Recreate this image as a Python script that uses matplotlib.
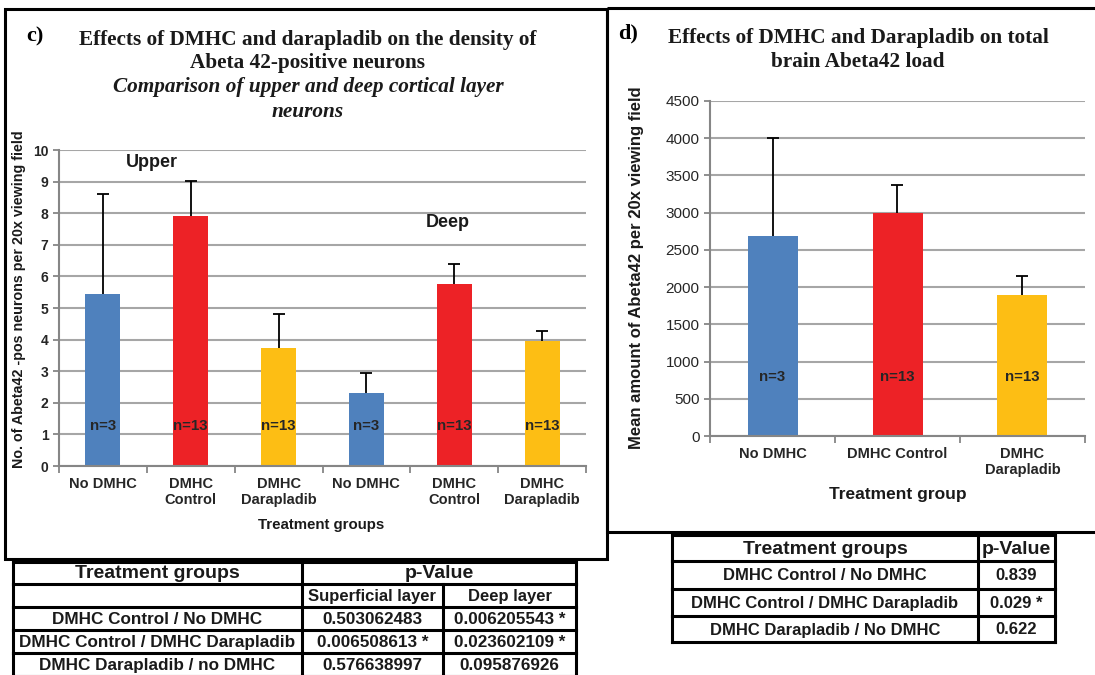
import matplotlib.pyplot as plt
import numpy as np
from matplotlib.patches import Rectangle

# bar data, panel c (upper layer then deep layer)
left_labels = ['No DMHC', 'DMHC\nControl', 'DMHC\nDarapladib',
               'No DMHC', 'DMHC\nControl', 'DMHC\nDarapladib']
left_means = [5.45, 7.9, 3.75, 2.3, 5.76, 3.97]
left_err = [3.17, 1.12, 1.05, 0.63, 0.64, 0.31]
left_n = ['n=3', 'n=13', 'n=13', 'n=3', 'n=13', 'n=13']

# bar data, panel d
right_labels = ['No DMHC', 'DMHC Control', 'DMHC\nDarapladib']
right_means = [2680, 2990, 1900]
right_err = [1320, 380, 250]
right_n = ['n=3', 'n=13', 'n=13']

# p-value tables
left_table_head = ['Treatment groups', 'p-Value']
left_table_sub = ['', 'Superficial layer', 'Deep layer']
left_table_rows = [
    ['DMHC Control / No DMHC', '0.503062483', '0.006205543 *'],
    ['DMHC Control / DMHC Darapladib', '0.006508613 *', '0.023602109 *'],
    ['DMHC Darapladib / no DMHC', '0.576638997', '0.095876926'],
]
right_table_head = ['Treatment groups', 'p-Value']
right_table_rows = [
    ['DMHC Control / No DMHC', '0.839'],
    ['DMHC Control / DMHC Darapladib', '0.029 *'],
    ['DMHC Darapladib / No DMHC', '0.622'],
]

W, H = 1095, 675
BLUE, RED, YELLOW = '#4F81BD', '#ED2226', '#FDBE14'
GRID = '#A6A6A6'
SANS = 'Liberation Sans'
SERIF = 'Liberation Serif'

plt.rcParams['font.family'] = SANS


def px_box(x0, y0, x1, y1):
    return [x0 / W, 1 - y1 / H, (x1 - x0) / W, (y1 - y0) / H]


def bar_panel(ax, labels, means, errs, ns, n_y, colors, ymax, ystep, tick_size, tick_weight):
    x = np.arange(len(means))
    means = np.array(means, dtype=float)
    tops = means + np.array(errs, dtype=float)
    ax.bar(x, means, width=0.4, color=colors, zorder=2)
    # plus-only error bars: stem from bar top, cap at the end
    ax.vlines(x, means, tops, color='black', lw=1.3, zorder=3)
    ax.plot(x, tops, ls='none', marker='_', ms=8, mew=1.3, color='black', zorder=3)
    for xi, n in zip(x, ns):
        ax.text(xi, n_y, n, ha='center', va='center', fontsize=10.8,
                fontweight='bold', color='#262626', zorder=4)
    ax.set_xlim(-0.5, len(means) - 0.5)
    ax.set_ylim(0, ymax)
    ax.set_yticks(np.arange(0, ymax + ystep / 2, ystep))
    ax.yaxis.grid(True, color=GRID, lw=1.5)
    ax.set_axisbelow(True)
    ax.set_xticks(x)
    ax.set_xticklabels(labels, fontsize=10.5, fontweight='bold', color='#262626', linespacing=1.15)
    ax.set_xticks(np.arange(-0.5, len(means)), minor=True)
    ax.tick_params(axis='x', which='major', length=0, pad=8)
    ax.tick_params(axis='x', which='minor', length=5, width=1.3, color='#868686')
    ax.tick_params(axis='y', length=4, width=1.3, color='#868686', labelsize=tick_size)
    for lab in ax.get_yticklabels():
        lab.set_fontweight(tick_weight)
        lab.set_color('#262626')
    for side in ['top', 'right']:
        ax.spines[side].set_visible(False)
    for side in ['left', 'bottom']:
        ax.spines[side].set_color('#868686')
        ax.spines[side].set_linewidth(1.5)
    ax.patch.set_visible(False)


def draw_table(ov, cols, rows_y, cells, spans, sizes):
    # spans: row index -> inner column lines left out (merged cells)
    lw = 2.2
    for y in rows_y:
        ov.plot([cols[0], cols[-1]], [y, y], color='black', lw=lw, solid_capstyle='projecting')
    for i, row in enumerate(cells):
        ya, yb = rows_y[i], rows_y[i + 1]
        ov.plot([cols[0], cols[0]], [ya, yb], color='black', lw=lw)
        ov.plot([cols[-1], cols[-1]], [ya, yb], color='black', lw=lw)
        for j in range(1, len(cols) - 1):
            if j not in spans.get(i, []):
                ov.plot([cols[j], cols[j]], [ya, yb], color='black', lw=lw)
        j = 0
        for text in row:
            if text is None:
                j += 1
                continue
            k = j + 1
            while k < len(cols) - 1 and k in spans.get(i, []):
                k += 1
            ov.text((cols[j] + cols[k]) / 2, (ya + yb) / 2 + 1, text, ha='center', va='center',
                    fontsize=sizes[i], fontweight='bold', color='#1a1a1a')
            j = k


fig = plt.figure(figsize=(W / 100, H / 100), dpi=100)

ov = fig.add_axes([0, 0, 1, 1], zorder=0)
ov.set_xlim(0, W)
ov.set_ylim(H, 0)
ov.axis('off')

# panel frames
ov.add_patch(Rectangle((5, 9), 602, 550, fill=False, lw=2.2, edgecolor='black'))
ov.add_patch(Rectangle((607, 8), 520, 524, fill=False, lw=2.2, edgecolor='black'))

# panel c titles
ov.text(35, 36, 'c)', family=SERIF, fontweight='bold', fontsize=16, ha='center', va='center')
ov.text(308, 40, 'Effects of DMHC and darapladib on the density of', family=SERIF,
        fontweight='bold', fontsize=15.3, ha='center', va='center', color='#1a1a1a')
ov.text(308, 63, 'Abeta 42-positive neurons', family=SERIF,
        fontweight='bold', fontsize=15.3, ha='center', va='center', color='#1a1a1a')
ov.text(308, 87, 'Comparison of upper and deep cortical layer', family=SERIF,
        fontweight='bold', style='italic', fontsize=15.3, ha='center', va='center', color='#1a1a1a')
ov.text(308, 112, 'neurons', family=SERIF,
        fontweight='bold', style='italic', fontsize=15.3, ha='center', va='center', color='#1a1a1a')

# panel d titles
ov.text(628, 33, 'd)', family=SERIF, fontweight='bold', fontsize=16, ha='center', va='center')
ov.text(858, 38, 'Effects of DMHC and Darapladib on total', family=SERIF,
        fontweight='bold', fontsize=15.3, ha='center', va='center', color='#1a1a1a')
ov.text(858, 62, 'brain Abeta42 load', family=SERIF,
        fontweight='bold', fontsize=15.3, ha='center', va='center', color='#1a1a1a')

# panel c chart
axc = fig.add_axes(px_box(59, 150, 586, 466), zorder=2)
bar_panel(axc, left_labels, left_means, left_err, left_n, 1.28,
          [BLUE, RED, YELLOW] * 2, 10, 1, 10, 'bold')
axc.text(0.56, 9.6, 'Upper', ha='center', va='center', fontsize=13, fontweight='bold', color='#1a1a1a')
axc.text(3.93, 7.7, 'Deep', ha='center', va='center', fontsize=13, fontweight='bold', color='#1a1a1a')
ov.text(19, 299, 'No. of Abeta42 -pos neurons per 20x viewing field', rotation=90,
        ha='center', va='center', fontsize=10.3, fontweight='bold', color='#1a1a1a')
ov.text(321, 525, 'Treatment groups', ha='center', va='center', fontsize=10.8,
        fontweight='bold', color='#1a1a1a')

# panel d chart
axd = fig.add_axes(px_box(710, 101, 1085, 436), zorder=2)
bar_panel(axd, right_labels, right_means, right_err, right_n, 790,
          [BLUE, RED, YELLOW], 4500, 500, 11, 'normal')
ov.text(637, 268, 'Mean amount of Abeta42 per 20x viewing field', rotation=90,
        ha='center', va='center', fontsize=12, fontweight='bold', color='#1a1a1a')
ov.text(898, 494, 'Treatment group', ha='center', va='center', fontsize=12.5,
        fontweight='bold', color='#1a1a1a')

# tables
left_cells = [[left_table_head[0], left_table_head[1], None],
              left_table_sub] + left_table_rows
draw_table(ov, [13, 302, 443, 576], [562, 584, 607, 630, 653, 676],
           left_cells, {0: [2]}, [14, 12, 12.3, 12.3, 12.3])
right_cells = [right_table_head] + right_table_rows
draw_table(ov, [672, 978, 1055], [535, 561, 589, 616, 642],
           right_cells, {}, [14, 12, 12, 12])

fig.savefig('out.png', dpi=100)
